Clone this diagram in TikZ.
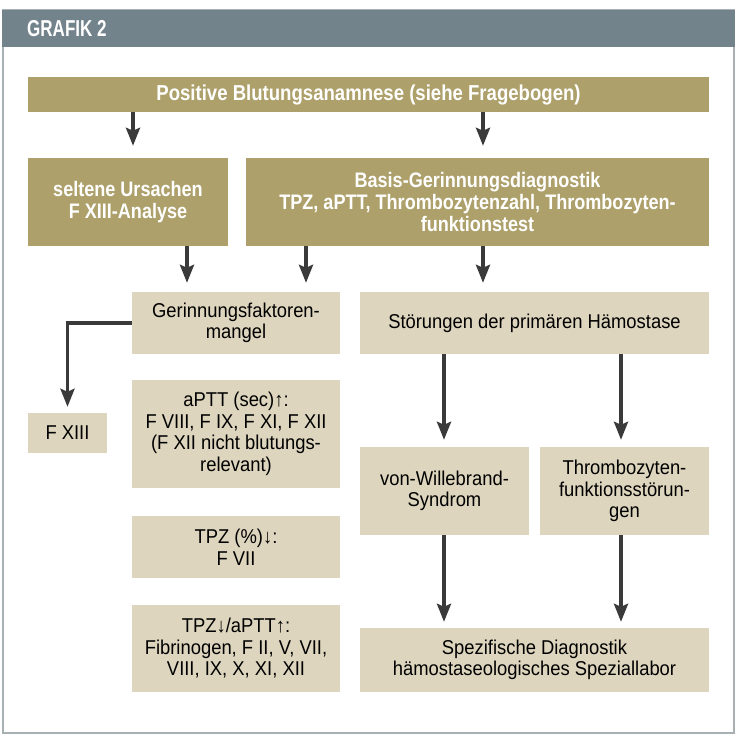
\documentclass[tikz,border=0pt]{standalone}
\usepackage{fontspec}
\setmainfont{Liberation Sans}
\newfontfamily\regf{Liberation Sans}[FakeStretch=0.92]
\newfontfamily\boldf{Liberation Sans}[FakeStretch=0.86]
\newfontfamily\titlef{Liberation Sans}[FakeStretch=0.74]
\usetikzlibrary{arrows.meta}
\definecolor{hdr}{HTML}{72838B}
\definecolor{olive}{HTML}{ADA06A}
\definecolor{beige}{HTML}{DDD5BD}
\definecolor{arrc}{HTML}{3A3A3A}
\definecolor{framec}{HTML}{A8B0B4}
\begin{document}
\begin{tikzpicture}[x=1pt,y=-1pt,
  dbox/.style={fill=olive, text=white, font=\boldf\bfseries\fontsize{21}{21.7}\selectfont, align=center, inner sep=0pt},
  lbox/.style={fill=beige, text=black, font=\regf\fontsize{20}{21.5}\selectfont, align=center, inner sep=0pt},
  arr/.style={draw=arrc, line width=3.5pt, -{Stealth[width=14pt,length=18pt,inset=3pt]}, shorten >=7pt}]
\useasboundingbox (0,0) rectangle (737,744);
\draw[framec, line width=1.2pt] (3,10) rectangle (734,733);
\fill[hdr] (2.4,10) rectangle (734.6,47);
\node[anchor=west, text=white, inner sep=0pt, font=\titlef\bfseries\fontsize{23}{23}\selectfont] (title) at (27,29) {GRAFIK 2};

\node[dbox, minimum width=681, minimum height=35, font=\boldf\bfseries\fontsize{21.6}{21.7}\selectfont] (top) at (368.5,94.5) {Positive Blutungsanamnese (siehe Fragebogen)};
\node[dbox, minimum width=200, minimum height=88] (sel) at (128,202) {seltene Ursachen\\F XIII-Analyse};
\node[dbox, minimum width=463, minimum height=88] (basis) at (477.5,202) {Basis-Gerinnungsdiagnostik\\TPZ, aPTT, Thrombozytenzahl, Thrombozyten-\\funktionstest};

\node[lbox, minimum width=208, minimum height=62] (ger) at (236,323) {Gerinnungsfaktoren-\\mangel};
\node[lbox, minimum width=349, minimum height=62] (stor) at (534.5,323) {Störungen der primären Hämostase};
\node[lbox, minimum width=79, minimum height=40] (fxiii) at (67.5,433) {F XIII};
\node[lbox, minimum width=208, minimum height=108] (aptt) at (236,434) {aPTT (sec)↑:\\F VIII, F IX, F XI, F XII\\(F XII nicht blutungs-\\relevant)};
\node[lbox, minimum width=208, minimum height=62] (tpz) at (236,547) {TPZ (\%)↓:\\F VII};
\node[lbox, minimum width=208, minimum height=87] (both) at (236,648.5) {TPZ↓/aPTT↑:\\Fibrinogen, F II, V, VII,\\VIII, IX, X, XI, XII};
\node[lbox, minimum width=169, minimum height=88] (vws) at (444.5,491) {von-Willebrand-\\Syndrom};
\node[lbox, minimum width=169, minimum height=88] (thr) at (624.5,491) {Thrombozyten-\\funktionsstörun-\\gen};
\node[lbox, minimum width=349, minimum height=64] (spez) at (534.5,660) {Spezifische Diagnostik\\hämostaseologisches Speziallabor};

\coordinate (xa) at (133,0);
\coordinate (xb) at (483,0);
\coordinate (xc) at (187,0);
\coordinate (xd) at (306,0);
\coordinate (xe) at (444,0);
\coordinate (xf) at (621,0);

\draw[arr, shorten >=12pt] (top.south -| xa) -- (sel.north -| xa);
\draw[arr, shorten >=12pt] (top.south -| xb) -- (basis.north -| xb);
\draw[arr, shorten >=9pt] (sel.south -| xc) -- (ger.north -| xc);
\draw[arr, shorten >=9pt] (basis.south -| xd) -- (ger.north -| xd);
\draw[arr, shorten >=9pt] (basis.south -| xb) -- (stor.north -| xb);
\draw[arr, shorten >=6pt] (ger.west) -| (fxiii.north);
\draw[arr] (stor.south -| xe) -- (vws.north -| xe);
\draw[arr] (stor.south -| xf) -- (thr.north -| xf);
\draw[arr, shorten >=6pt] (vws.south -| xe) -- (spez.north -| xe);
\draw[arr, shorten >=6pt] (thr.south -| xf) -- (spez.north -| xf);
\end{tikzpicture}
\end{document}
